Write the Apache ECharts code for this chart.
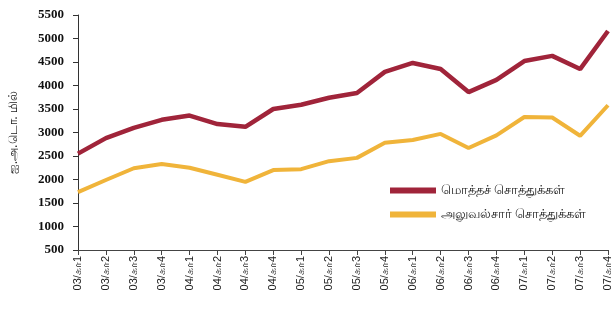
<!DOCTYPE html>
<html>
<head>
<meta charset="utf-8">
<script src="https://cdn.jsdelivr.net/npm/echarts@6/dist/echarts.min.js"></script>
<style>
  html, body { margin: 0; padding: 0; background: #fff; }
  #chart { width: 615px; height: 311px; }
</style>
</head>
<body>
<div id="chart"></div>
<script>
    // காலாண்டுகள்
    const quarters = [
        '03/கா1', '03/கா2', '03/கா3', '03/கா4',
        '04/கா1', '04/கா2', '04/கா3', '04/கா4',
        '05/கா1', '05/கா2', '05/கா3', '05/கா4',
        '06/கா1', '06/கா2', '06/கா3', '06/கா4',
        '07/கா1', '07/கா2', '07/கா3', '07/கா4'
    ];

    // மொத்தச் சொத்துக்கள்
    const totalAssets = [
        2550, 2880, 3100, 3270, 3360, 3180, 3120, 3500, 3590, 3740,
        3840, 4290, 4480, 4350, 3860, 4120, 4520, 4630, 4350, 5160
    ];

    // அலுவல்சார் சொத்துக்கள்
    const officialAssets = [
        1730, 1990, 2240, 2330, 2250, 2100, 1950, 2200, 2220, 2390,
        2460, 2780, 2840, 2970, 2670, 2940, 3330, 3320, 2930, 3580
    ];

    const seriesNames = ['மொத்தச் சொத்துக்கள்', 'அலுவல்சார் சொத்துக்கள்'];
    const colors = ['#a0243a', '#f0b43a'];

    const myChart = echarts.init(document.getElementById('chart'));

    const option = {
        animation: false,
        color: colors,
        grid: {
            left: 77,
            right: 7,
            top: 15,
            bottom: 61
        },
        legend: {
            orient: 'vertical',
            left: 385,
            top: 179,
            icon: 'rect',
            itemWidth: 46,
            itemHeight: 6,
            itemGap: 11,
            textStyle: {
                fontFamily: 'Noto Sans, DejaVu Sans',
                fontSize: 13,
                color: '#222'
            },
            data: seriesNames
        },
        xAxis: {
            type: 'category',
            boundaryGap: false,
            data: quarters,
            axisLine: { lineStyle: { color: '#444', width: 1 } },
            axisTick: { length: 5, lineStyle: { color: '#444' } },
            axisLabel: {
                rotate: 90,
                margin: 6,
                fontFamily: 'Liberation Sans Narrow, Liberation Sans',
                fontSize: 11,
                color: '#222'
            }
        },
        yAxis: {
            type: 'value',
            min: 500,
            max: 5500,
            interval: 500,
            name: 'ஐ.அ.டொ. மில்',
            nameLocation: 'middle',
            nameGap: 58,
            nameTextStyle: {
                fontFamily: 'Noto Sans, DejaVu Sans',
                fontSize: 12,
                color: '#222'
            },
            axisLine: { show: true, lineStyle: { color: '#333', width: 1 } },
            axisTick: { show: true, length: 5, lineStyle: { color: '#333' } },
            splitLine: { show: false },
            axisLabel: {
                margin: 14,
                formatter: function (value) {
                    return String(value);
                },
                fontFamily: 'Liberation Serif',
                fontWeight: 'bold',
                fontSize: 13,
                color: '#111'
            }
        },
        series: [
            {
                name: seriesNames[0],
                type: 'line',
                data: totalAssets,
                symbol: 'none',
                lineStyle: { width: 4.5, color: colors[0] },
                itemStyle: { color: colors[0] }
            },
            {
                name: seriesNames[1],
                type: 'line',
                data: officialAssets,
                symbol: 'none',
                lineStyle: { width: 4, color: colors[1] },
                itemStyle: { color: colors[1] }
            }
        ]
    };

    myChart.setOption(option);
</script>
</body>
</html>
